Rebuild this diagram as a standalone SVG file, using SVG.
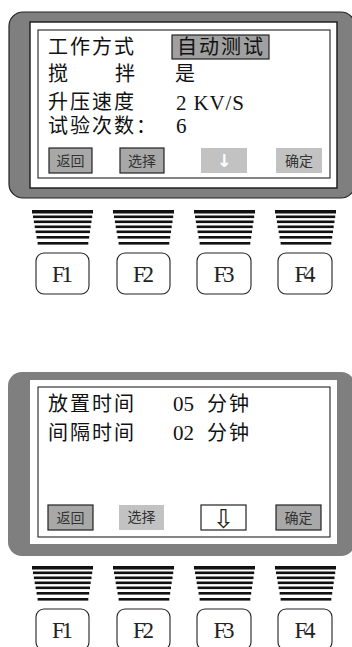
<svg xmlns="http://www.w3.org/2000/svg" xmlns:xlink="http://www.w3.org/1999/xlink" width="352" height="647" viewBox="0 0 352 647">
<style>
.cjk{font-family:"Liberation Sans","Noto Sans CJK SC",sans-serif;font-size:20px;letter-spacing:2px;fill:#111}
.lat{font-family:"Liberation Serif",serif;font-size:21px;fill:#111}
.btn{font-family:"Noto Sans CJK SC",sans-serif;font-size:14px;fill:#333;text-anchor:middle}
.fl{font-family:"Liberation Serif",serif;font-size:23px;fill:#222;text-anchor:middle}
.fbox{fill:#fff;stroke:#222;stroke-width:1.1}
.bd{fill:#a8a8a8;stroke:#222;stroke-width:1.2}
.bl{fill:#c2c2c2}
.inner{fill:#fff;stroke:#222;stroke-width:1.1}
.shell{fill:#7f7f7f}
</style>
<defs>
<g id="stripes" fill="#111">
<rect x="0" y="0" width="61" height="3.5"/>
<rect x="1" y="5.5" width="59.2" height="2.6"/>
<rect x="1.9" y="10.5" width="57.6" height="2.6"/>
<rect x="2.7" y="15.5" width="56" height="2.6"/>
<rect x="3.6" y="20.5" width="54.4" height="2.6"/>
<rect x="4.6" y="26" width="52.6" height="2.6"/>
<rect x="5.6" y="32" width="50.7" height="2.6"/>
</g>
</defs>

<g id="panel1">
<rect class="shell" x="9" y="12" width="346" height="186" rx="14" stroke="#222" stroke-width="1.2"/>
<rect x="30" y="22" width="307" height="166" fill="#fff" stroke="#222" stroke-width="1.5"/>
<rect class="inner" x="38" y="30" width="292" height="148"/>
<rect x="172" y="35" width="97" height="24" fill="#a0a0a0" stroke="#222" stroke-width="1.2"/>
<text class="cjk" x="48" y="53.5">工作方式</text>
<text class="cjk" x="177" y="53.5">自动测试</text>
<text class="cjk" x="48" y="81">搅<tspan x="115">拌</tspan></text>
<text class="cjk" x="175" y="81">是</text>
<text class="cjk" x="48" y="109">升压速度</text>
<text class="cjk" x="48" y="133">试验次数：</text>
<text class="lat" x="176" y="110" textLength="68" lengthAdjust="spacing">2 KV/S</text>
<text class="lat" x="176" y="133">6</text>
<g id="p1-back"><rect class="bd" x="49" y="148" width="43" height="25"/><text class="btn" x="70.5" y="166">返回</text></g>
<g id="p1-select"><rect class="bd" x="120" y="148" width="44" height="25"/><text class="btn" x="142" y="166">选择</text></g>
<g id="p1-down"><rect class="bl" x="201" y="148" width="46" height="25"/><text x="224" y="167" font-family="DejaVu Sans,sans-serif" font-size="18" font-weight="bold" fill="#fff" text-anchor="middle">↓</text></g>
<g id="p1-ok"><rect class="bl" x="276" y="148" width="46" height="25"/><text class="btn" x="299" y="166">确定</text></g>
</g>

<g id="keys1">
<use xlink:href="#stripes" x="32" y="210"/>
<use xlink:href="#stripes" x="113" y="210"/>
<use xlink:href="#stripes" x="194" y="210"/>
<use xlink:href="#stripes" x="275" y="210"/>
<g id="k1-F1"><rect class="fbox" x="36" y="253" width="53" height="41" rx="8"/><text class="fl" x="62.5" y="282" textLength="21">F1</text></g>
<g id="k1-F2"><rect class="fbox" x="117" y="253" width="53" height="41" rx="8"/><text class="fl" x="143.5" y="282" textLength="21">F2</text></g>
<g id="k1-F3"><rect class="fbox" x="197" y="253" width="54" height="41" rx="8"/><text class="fl" x="224" y="282" textLength="21">F3</text></g>
<g id="k1-F4"><rect class="fbox" x="278" y="253" width="54" height="41" rx="8"/><text class="fl" x="305" y="282" textLength="21">F4</text></g>
</g>

<g id="panel2">
<rect class="shell" x="8" y="372" width="347" height="184" rx="14"/>
<rect x="30" y="380" width="307" height="164" fill="#fff"/>
<rect class="inner" x="38" y="387" width="292" height="150"/>
<text class="cjk" x="48" y="410.5">放置时间</text>
<text class="lat" x="173" y="410.5">05</text>
<text class="cjk" x="207" y="410.5">分钟</text>
<text class="cjk" x="48" y="440">间隔时间</text>
<text class="lat" x="173" y="440">02</text>
<text class="cjk" x="207" y="440">分钟</text>
<g id="p2-back"><rect class="bd" x="48" y="505" width="45" height="25"/><text class="btn" x="70.5" y="523">返回</text></g>
<g id="p2-select"><rect class="bl" x="119" y="505" width="45" height="25"/><text class="btn" x="141.5" y="522">选择</text></g>
<g id="p2-down"><rect x="201" y="505" width="45" height="25" fill="#fff" stroke="#222" stroke-width="1.2"/><text x="223.5" y="528" font-family="DejaVu Sans,sans-serif" font-size="26" fill="#222" text-anchor="middle">⇩</text></g>
<g id="p2-ok"><rect class="bd" x="276" y="505" width="45" height="25"/><text class="btn" x="298.5" y="523">确定</text></g>
</g>

<g id="keys2">
<use xlink:href="#stripes" x="32" y="566"/>
<use xlink:href="#stripes" x="113" y="566"/>
<use xlink:href="#stripes" x="194" y="566"/>
<use xlink:href="#stripes" x="275" y="566"/>
<g id="k2-F1"><rect class="fbox" x="36" y="609" width="53" height="41" rx="8"/><text class="fl" x="62.5" y="638" textLength="21">F1</text></g>
<g id="k2-F2"><rect class="fbox" x="117" y="609" width="53" height="41" rx="8"/><text class="fl" x="143.5" y="638" textLength="21">F2</text></g>
<g id="k2-F3"><rect class="fbox" x="197" y="609" width="54" height="41" rx="8"/><text class="fl" x="224" y="638" textLength="21">F3</text></g>
<g id="k2-F4"><rect class="fbox" x="278" y="609" width="54" height="41" rx="8"/><text class="fl" x="305" y="638" textLength="21">F4</text></g>
</g>
</svg>
